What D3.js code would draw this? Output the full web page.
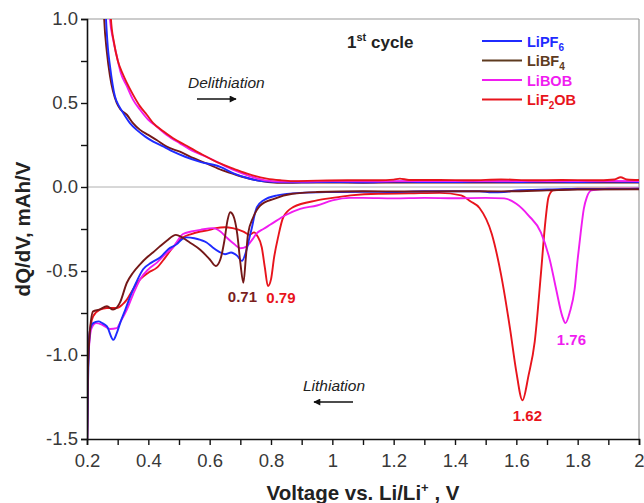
<!DOCTYPE html>
<html>
<head>
<meta charset="utf-8">
<script src="https://cdn.jsdelivr.net/npm/d3@7"></script>
<style>
  html, body { margin: 0; padding: 0; background: #fff; }
  svg { display: block; font-family: "Liberation Sans", Arial, sans-serif; }
</style>
</head>
<body>
<svg id="chart" width="644" height="503"></svg>
<script>
// dQ/dV profiles, first cycle, four electrolyte salts.
// Each series: [voltage (V), dQ/dV (mAh/V)]

// Delithiation branch (positive dQ/dV)
const lipf6Up = [[0.255,1.3],[0.262,1.0],[0.268,0.83],[0.275,0.72],[0.291,0.54],[0.305,0.48],[0.318,0.44],[0.34,0.38],[0.362,0.34],[0.39,0.30],[0.416,0.27],[0.45,0.24],[0.481,0.21],[0.52,0.18],[0.569,0.15],[0.634,0.12],[0.68,0.08],[0.72,0.055],[0.77,0.035],[0.82,0.03],[0.9,0.028],[1.0,0.03],[1.1,0.028],[1.2,0.032],[1.3,0.03],[1.4,0.03],[1.5,0.032],[1.6,0.03],[1.7,0.032],[1.8,0.03],[1.9,0.032],[2.0,0.03]];
const libf4Up = [[0.25,1.3],[0.256,1.0],[0.265,0.8],[0.275,0.66],[0.297,0.50],[0.31,0.46],[0.33,0.43],[0.35,0.38],[0.373,0.34],[0.40,0.31],[0.427,0.28],[0.46,0.24],[0.503,0.21],[0.55,0.17],[0.59,0.14],[0.64,0.10],[0.69,0.07],[0.74,0.045],[0.79,0.03],[0.85,0.025],[0.95,0.027],[1.1,0.025],[1.25,0.027],[1.4,0.026],[1.55,0.027],[1.7,0.026],[1.85,0.027],[2.0,0.026]];
const libobUp = [[0.27,1.3],[0.275,1.0],[0.285,0.88],[0.297,0.78],[0.31,0.68],[0.33,0.60],[0.35,0.52],[0.373,0.46],[0.40,0.40],[0.427,0.36],[0.46,0.31],[0.503,0.26],[0.55,0.21],[0.59,0.18],[0.634,0.14],[0.68,0.10],[0.73,0.065],[0.786,0.038],[0.83,0.033],[0.9,0.033],[1.0,0.035],[1.15,0.034],[1.3,0.036],[1.45,0.035],[1.6,0.036],[1.75,0.035],[1.9,0.036],[2.0,0.035]];
const lif2obUp = [[0.273,1.3],[0.278,1.0],[0.288,0.86],[0.30,0.755],[0.315,0.68],[0.33,0.62],[0.35,0.55],[0.373,0.48],[0.395,0.43],[0.416,0.38],[0.45,0.33],[0.481,0.29],[0.52,0.25],[0.569,0.20],[0.634,0.14],[0.677,0.11],[0.73,0.075],[0.786,0.05],[0.83,0.04],[0.87,0.035],[0.95,0.038],[1.05,0.04],[1.15,0.04],[1.2,0.044],[1.22,0.05],[1.25,0.042],[1.35,0.042],[1.45,0.04],[1.55,0.045],[1.65,0.04],[1.75,0.042],[1.85,0.04],[1.92,0.045],[1.94,0.058],[1.96,0.045],[2.0,0.042]];

// Lithiation branch (negative dQ/dV)
const lipf6Down = [[0.2,-1.6],[0.203,-1.2],[0.21,-0.85],[0.22,-0.81],[0.237,-0.80],[0.25,-0.81],[0.265,-0.83],[0.286,-0.91],[0.297,-0.87],[0.308,-0.81],[0.325,-0.73],[0.34,-0.655],[0.36,-0.57],[0.383,-0.49],[0.41,-0.45],[0.438,-0.42],[0.465,-0.37],[0.493,-0.34],[0.51,-0.31],[0.525,-0.30],[0.55,-0.305],[0.57,-0.315],[0.59,-0.33],[0.61,-0.36],[0.63,-0.385],[0.65,-0.40],[0.67,-0.39],[0.69,-0.41],[0.705,-0.44],[0.72,-0.375],[0.73,-0.30],[0.738,-0.24],[0.746,-0.17],[0.754,-0.12],[0.775,-0.08],[0.82,-0.05],[0.895,-0.035],[1.0,-0.03],[1.1,-0.028],[1.2,-0.03],[1.3,-0.025],[1.4,-0.025],[1.48,-0.025],[1.52,-0.032],[1.56,-0.03],[1.6,-0.02],[1.7,-0.015],[1.8,-0.012],[1.9,-0.012],[2.0,-0.01]];
const libf4Down = [[0.2,-1.6],[0.203,-1.1],[0.21,-0.85],[0.22,-0.74],[0.24,-0.73],[0.265,-0.71],[0.285,-0.73],[0.307,-0.69],[0.33,-0.57],[0.35,-0.51],[0.373,-0.46],[0.395,-0.42],[0.415,-0.39],[0.44,-0.35],[0.46,-0.32],[0.49,-0.285],[0.51,-0.30],[0.535,-0.33],[0.57,-0.375],[0.60,-0.43],[0.62,-0.47],[0.635,-0.43],[0.648,-0.32],[0.658,-0.2],[0.667,-0.15],[0.677,-0.17],[0.69,-0.28],[0.70,-0.45],[0.71,-0.57],[0.718,-0.42],[0.725,-0.28],[0.742,-0.18],[0.765,-0.11],[0.81,-0.07],[0.87,-0.04],[0.95,-0.03],[1.1,-0.025],[1.25,-0.027],[1.4,-0.025],[1.55,-0.026],[1.7,-0.02],[1.8,-0.015],[2.0,-0.013]];
const libobDown = [[0.2,-1.6],[0.203,-1.1],[0.208,-0.92],[0.215,-0.84],[0.23,-0.81],[0.25,-0.82],[0.275,-0.845],[0.297,-0.84],[0.31,-0.80],[0.33,-0.73],[0.35,-0.64],[0.373,-0.55],[0.40,-0.49],[0.428,-0.45],[0.455,-0.40],[0.48,-0.36],[0.513,-0.28],[0.54,-0.265],[0.57,-0.255],[0.61,-0.245],[0.635,-0.265],[0.655,-0.30],[0.68,-0.34],[0.70,-0.365],[0.72,-0.355],[0.74,-0.31],[0.754,-0.275],[0.775,-0.25],[0.797,-0.225],[0.85,-0.165],[0.895,-0.13],[0.95,-0.11],[1.0,-0.08],[1.057,-0.065],[1.1,-0.065],[1.2,-0.068],[1.3,-0.065],[1.4,-0.067],[1.5,-0.065],[1.56,-0.068],[1.60,-0.10],[1.64,-0.17],[1.68,-0.27],[1.71,-0.44],[1.73,-0.61],[1.75,-0.77],[1.76,-0.81],[1.775,-0.74],[1.79,-0.61],[1.80,-0.43],[1.81,-0.27],[1.82,-0.13],[1.83,-0.06],[1.845,-0.02],[1.9,-0.01],[2.0,-0.01]];
const lif2obDown = [[0.2,-1.6],[0.202,-1.2],[0.206,-0.91],[0.22,-0.77],[0.242,-0.73],[0.265,-0.72],[0.297,-0.72],[0.315,-0.70],[0.33,-0.67],[0.35,-0.61],[0.373,-0.55],[0.40,-0.51],[0.428,-0.48],[0.455,-0.42],[0.48,-0.36],[0.513,-0.30],[0.54,-0.28],[0.57,-0.265],[0.60,-0.255],[0.62,-0.245],[0.65,-0.24],[0.675,-0.245],[0.71,-0.265],[0.73,-0.285],[0.745,-0.27],[0.755,-0.29],[0.77,-0.36],[0.78,-0.48],[0.79,-0.59],[0.80,-0.55],[0.81,-0.42],[0.823,-0.30],[0.84,-0.18],[0.872,-0.12],[0.95,-0.08],[1.0,-0.065],[1.06,-0.05],[1.15,-0.04],[1.25,-0.038],[1.35,-0.035],[1.42,-0.05],[1.45,-0.085],[1.48,-0.125],[1.52,-0.28],[1.55,-0.52],[1.58,-0.85],[1.60,-1.10],[1.62,-1.27],[1.64,-1.12],[1.66,-0.92],[1.68,-0.52],[1.695,-0.2],[1.705,-0.06],[1.72,-0.02],[1.8,-0.01],[2.0,-0.01]];

// Series names and colours
const seriesNames = ["LiPF6", "LiBF4", "LiBOB", "LiF2OB"];
const seriesColors = ["#1f2bff", "#741818", "#f01cf0", "#e8141c"];
const legendColors = ["#1f2bff", "#5e3b20", "#f01cf0", "#e8141c"];

// Labelled peak positions: [voltage, dQ/dV, series index]
const peakLabels = [[0.71, -0.57, 1], [0.79, -0.59, 3], [1.62, -1.27, 3], [1.76, -0.81, 2]];

const xTicks = [0.2, 0.4, 0.6, 0.8, 1.0, 1.2, 1.4, 1.6, 1.8, 2.0];
const yTicks = [1.0, 0.5, 0.0, -0.5, -1.0, -1.5];

const svg = d3.select("#chart");
const plotLeft = 87, plotRight = 639, plotTop = 19, plotBottom = 439;

const x = d3.scaleLinear().domain([0.2, 2.0]).range([plotLeft, plotRight]);
const y = d3.scaleLinear().domain([-1.5, 1.0]).range([plotBottom, plotTop]);

const defs = svg.append("defs");
defs.append("clipPath").attr("id", "plotClip")
  .append("rect").attr("x", plotLeft).attr("y", plotTop)
  .attr("width", plotRight - plotLeft).attr("height", plotBottom - plotTop);

// frame (top / right) and zero line
svg.append("line").attr("x1", plotLeft).attr("x2", plotRight).attr("y1", plotTop).attr("y2", plotTop)
  .attr("stroke", "#9a9a9a").attr("stroke-width", 1.2);
svg.append("line").attr("x1", plotRight).attr("x2", plotRight).attr("y1", plotTop).attr("y2", plotBottom)
  .attr("stroke", "#9a9a9a").attr("stroke-width", 1.2);
svg.append("line").attr("x1", plotLeft).attr("x2", plotRight).attr("y1", y(0)).attr("y2", y(0))
  .attr("stroke", "#b0b0b0").attr("stroke-width", 1);

// curves
const line = d3.line().x(d => x(d[0])).y(d => y(d[1])).curve(d3.curveMonotoneX);
const groups = [
  [lif2obDown, 3], [libobDown, 2], [lipf6Down, 0], [libf4Down, 1],
  [libf4Up, 1], [lipf6Up, 0], [libobUp, 2], [lif2obUp, 3]
];
const plot = svg.append("g").attr("clip-path", "url(#plotClip)");
groups.forEach(([data, i]) => {
  plot.append("path").datum(data).attr("d", line)
    .attr("fill", "none").attr("stroke", seriesColors[i])
    .attr("stroke-width", 1.9).attr("stroke-linejoin", "round");
});

// axes
const isLabelled = (list, d) => list.some(t => Math.abs(t - d) < 1e-6);
const xAxis = d3.axisBottom(x).tickValues(d3.range(2, 21).map(k => k / 10)).tickSize(6)
  .tickFormat(d => isLabelled(xTicks, d) ? (Number.isInteger(d) ? String(d) : String(+d.toFixed(1))) : "");
const gx = svg.append("g").attr("transform", `translate(0,${plotBottom})`).call(xAxis);
gx.select(".domain").attr("stroke", "#111").attr("stroke-width", 1.6);
gx.selectAll(".tick line").attr("stroke", "#111").attr("stroke-width", 1.4);
gx.selectAll(".tick text").attr("font-size", 18.5).attr("fill", "#383838")
  .attr("font-family", "Liberation Sans, Arial, sans-serif").attr("dy", "1.05em");

const yAxis = d3.axisLeft(y).tickValues(d3.range(-6, 5).map(k => k / 4)).tickSize(6)
  .tickFormat(d => isLabelled(yTicks, d) ? (d === 0 ? "0.0" : d.toFixed(1)) : "");
const gy = svg.append("g").attr("transform", `translate(${plotLeft},0)`).call(yAxis);
gy.select(".domain").attr("stroke", "#111").attr("stroke-width", 1.6);
gy.selectAll(".tick line").attr("stroke", "#111").attr("stroke-width", 1.4);
gy.selectAll(".tick text").attr("font-size", 18.5).attr("fill", "#383838")
  .attr("font-family", "Liberation Sans, Arial, sans-serif").attr("x", -9);

// axis titles
svg.append("text").attr("x", (plotLeft + plotRight) / 2).attr("y", 500)
  .attr("text-anchor", "middle").attr("font-weight", "bold").attr("font-size", 20.5).attr("fill", "#222")
  .html('Voltage vs. Li/Li<tspan font-size="13" dy="-8">+</tspan><tspan dy="8"> , V</tspan>');
svg.append("text").attr("transform", `translate(30,${(plotTop + plotBottom) / 2}) rotate(-90)`)
  .attr("text-anchor", "middle").attr("font-weight", "bold").attr("font-size", 20.5).attr("fill", "#222")
  .text("dQ/dV, mAh/V");

// cycle title
svg.append("text").attr("x", 347).attr("y", 48).attr("font-weight", "bold").attr("font-size", 17).attr("fill", "#222")
  .html('1<tspan font-size="11" dy="-7">st</tspan><tspan dy="7"> cycle</tspan>');

// legend
const legendRows = [["LiPF", "6"], ["LiBF", "4"], ["LiBOB", ""], ["LiF", "2", "OB"]];
legendRows.forEach((parts, i) => {
  const cy = 41 + i * 19.5;
  svg.append("line").attr("x1", 482).attr("x2", 522).attr("y1", cy).attr("y2", cy)
    .attr("stroke", legendColors[i]).attr("stroke-width", 1.8);
  const t = svg.append("text").attr("x", 527).attr("y", cy + 5.5)
    .attr("font-weight", "bold").attr("font-size", 14.5).attr("fill", legendColors[i]);
  t.append("tspan").text(parts[0]);
  if (parts[1]) t.append("tspan").attr("font-size", 10).attr("dy", 4).text(parts[1]);
  if (parts[2]) t.append("tspan").attr("dy", -4).text(parts[2]);
});

// direction notes with arrows
defs.append("marker").attr("id", "arrowHead").attr("viewBox", "0 0 10 10")
  .attr("refX", 9).attr("refY", 5).attr("markerWidth", 9).attr("markerHeight", 7)
  .attr("markerUnits", "userSpaceOnUse").attr("orient", "auto")
  .append("path").attr("d", "M0,0 L10,5 L0,10 z").attr("fill", "#111");

svg.append("text").attr("x", 188).attr("y", 88).attr("font-style", "italic").attr("font-size", 15.5).attr("fill", "#222")
  .text("Delithiation");
svg.append("line").attr("x1", 197).attr("x2", 236).attr("y1", 99).attr("y2", 99)
  .attr("stroke", "#111").attr("stroke-width", 1.6).attr("marker-end", "url(#arrowHead)");

svg.append("text").attr("x", 303).attr("y", 391).attr("font-style", "italic").attr("font-size", 15.5).attr("fill", "#222")
  .text("Lithiation");
svg.append("line").attr("x1", 353).attr("x2", 314).attr("y1", 402).attr("y2", 402)
  .attr("stroke", "#111").attr("stroke-width", 1.6).attr("marker-end", "url(#arrowHead)");

// peak value labels
const labelOffsets = [[-1, 19], [13, 17], [5, 21], [6, 22]];
peakLabels.forEach(([v, q, i], k) => {
  svg.append("text").attr("x", x(v) + labelOffsets[k][0]).attr("y", y(q) + labelOffsets[k][1])
    .attr("text-anchor", "middle").attr("font-weight", "bold").attr("font-size", 15)
    .attr("fill", i === 1 ? "#7a1f1f" : seriesColors[i]).text(v.toFixed(2));
});
</script>
</body>
</html>
